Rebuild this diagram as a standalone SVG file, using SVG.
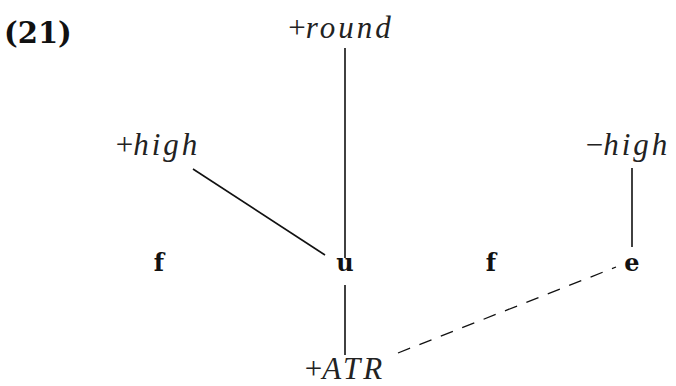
<svg xmlns="http://www.w3.org/2000/svg" width="676" height="386" viewBox="0 0 676 386">
<style>
.lab{font-family:"Liberation Serif","Times New Roman",serif;font-size:31px;fill:#222;text-anchor:middle}
.lab tspan.i{font-style:italic;letter-spacing:3px}
.seg{font-family:"DejaVu Serif",serif;font-size:24px;font-weight:600;fill:#111;text-anchor:middle}
.num{font-family:"DejaVu Serif",serif;font-size:29px;font-weight:bold;fill:#111}
.ln{stroke:#111;stroke-width:1.6;fill:none}
.dash{stroke:#111;stroke-width:1.3;fill:none;stroke-dasharray:13 10}
</style>
<rect width="676" height="386" fill="#fff"/>
<text class="num" x="4" y="43">(21)</text>
<g id="round"><text class="lab" x="341" y="38">+<tspan class="i">round</tspan></text></g>
<g id="phigh"><text class="lab" x="158" y="155">+<tspan class="i">high</tspan></text></g>
<g id="mhigh"><text class="lab" x="628" y="155">−<tspan class="i">high</tspan></text></g>
<g id="f1"><text class="seg" x="159" y="271">f</text></g>
<g id="u"><text class="seg" x="345" y="271">u</text></g>
<g id="f2"><text class="seg" x="491" y="271">f</text></g>
<g id="e"><text class="seg" x="632" y="271">e</text></g>
<g id="atr"><text class="lab" x="345" y="379">+<tspan class="i">ATR</tspan></text></g>
<g id="connectors">
<line class="ln" x1="345" y1="48" x2="345" y2="258"/>
<line class="ln" x1="193" y1="169" x2="325" y2="255"/>
<line class="ln" x1="632" y1="168" x2="632" y2="247"/>
<line class="ln" x1="345" y1="285" x2="345" y2="355"/>
<line class="dash" x1="398" y1="353" x2="616" y2="267"/>
</g>
</svg>
